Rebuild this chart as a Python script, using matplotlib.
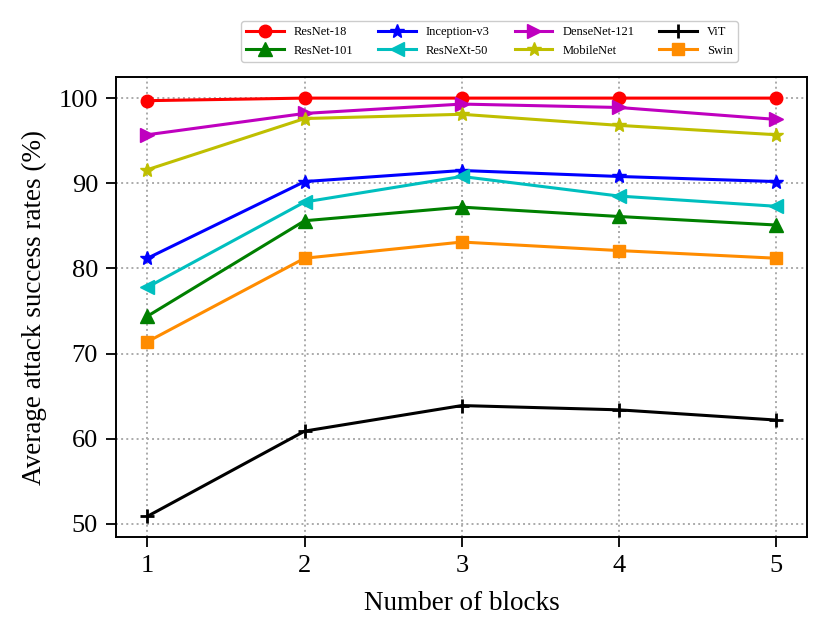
'''Average attack success rate against number of blocks'''
import matplotlib
matplotlib.use('Agg')
import matplotlib.pyplot as plt

plt.rcParams['font.family'] = ['Liberation Serif', 'DejaVu Serif']

blokken = [1, 2, 3, 4, 5]

resnet18 = [99.7, 100.0, 100.0, 100.0, 100.0]
resnet101 = [74.4, 85.6, 87.2, 86.1, 85.1]
inception_v3 = [81.2, 90.2, 91.5, 90.8, 90.2]
resnext50 = [77.8, 87.8, 90.8, 88.5, 87.3]
densenet121 = [95.7, 98.2, 99.3, 98.9, 97.5]
mobilenet = [91.6, 97.6, 98.1, 96.8, 95.7]
vit = [50.9, 60.9, 63.9, 63.4, 62.2]
swin = [71.4, 81.2, 83.1, 82.1, 81.2]

fig, ax = plt.subplots(figsize=(8.29, 6.38), dpi=100)

# volgorde bepaalt de kolommen van de legenda (ncol=4)
lw = 2.2
ax.plot(blokken, resnet18, color='r', marker='o', markersize=9, linewidth=lw, label='ResNet-18')
ax.plot(blokken, resnet101, color='g', marker='^', markersize=10, linewidth=lw, label='ResNet-101')
ax.plot(blokken, inception_v3, color='b', marker='*', markersize=10, linewidth=lw, label='Inception-v3')
ax.plot(blokken, resnext50, color='c', marker='<', markersize=10, linewidth=lw, label='ResNeXt-50')
ax.plot(blokken, densenet121, color='m', marker='>', markersize=10, linewidth=lw, label='DenseNet-121')
ax.plot(blokken, mobilenet, color='y', marker='*', markersize=10, linewidth=lw, label='MobileNet')
ax.plot(blokken, vit, color='k', marker='+', markersize=10, markeredgewidth=2, linewidth=lw, label='ViT')
ax.plot(blokken, swin, color='darkorange', marker='s', markersize=9, linewidth=lw, label='Swin')

ax.set_xticks(blokken)
ax.set_yticks([50, 60, 70, 80, 90, 100])
ax.tick_params(labelsize=19, width=1.3, length=7, pad=6)
ax.set_xlabel('Number of blocks', fontsize=19.5, labelpad=10)
ax.set_ylabel('Average attack success rates (%)', fontsize=19.5, labelpad=8)
ax.grid(True, linestyle=':', linewidth=1.4, color='#aaaaaa')
for spine in ax.spines.values():
    spine.set_linewidth(1.4)

ax.legend(ncol=4, fontsize=9, loc='lower center', bbox_to_anchor=(0.54, 1.02),
          handlelength=3, columnspacing=2.0, framealpha=1, edgecolor='#cccccc')

fig.subplots_adjust(left=0.14, right=0.974, top=0.879, bottom=0.158)
fig.savefig('out.png', dpi=100)
